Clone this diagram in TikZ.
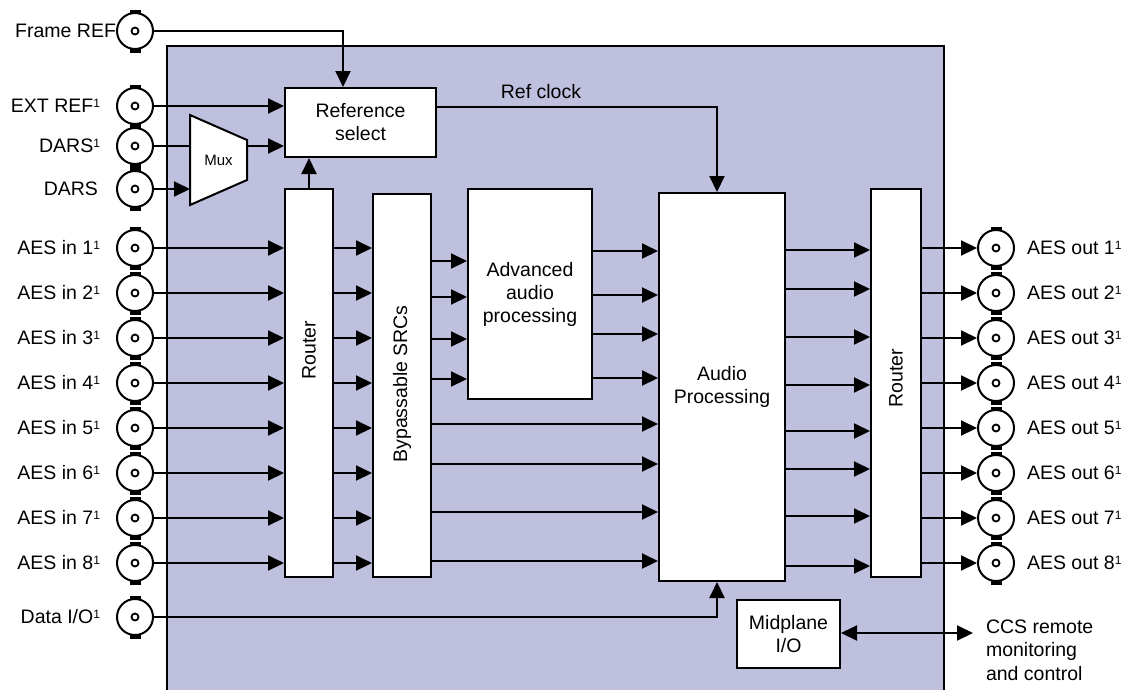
\documentclass[tikz,border=0pt]{standalone}
\usepackage{fontspec}
\setmainfont{Liberation Sans}
\usetikzlibrary{arrows.meta}
\definecolor{panel}{RGB}{191,191,222}
\newcommand\sone{\raisebox{5.5pt}{\fontsize{12}{12}\selectfont 1}}
\begin{document}
\begin{tikzpicture}[x=1pt,y=-1pt,line width=2pt,
  arr/.style={-{Triangle[length=16pt,width=15pt]}},
  darr/.style={{Triangle[length=16pt,width=15pt]}-{Triangle[length=16pt,width=15pt]}},
  blk/.style={draw,fill=white,inner sep=0pt,align=center,font=\fontsize{19.5}{23}\selectfont},
  bnc/.style={circle,draw,fill=white,minimum size=36pt,inner sep=0pt},
  lbl/.style={font=\fontsize{19.5}{23}\selectfont,inner sep=0pt},
  tab/.style={fill=black,line width=0pt},
]
\useasboundingbox (0,0) rectangle (1129,689);
% panel
\draw[fill=panel] (167,46) rectangle (944,700);

% blocks
\node[blk,minimum width=151pt,minimum height=69pt] (refsel) at (360.5,122.5) {Reference\\select};
\node[blk,minimum width=48pt,minimum height=388pt] (rtrL) at (309,383) {};
\node[lbl,rotate=90] at (309,350) {Router};
\node[blk,minimum width=58pt,minimum height=383pt] (src) at (402,385.5) {};
\node[lbl,rotate=90] at (402,384) {Bypassable SRCs};
\node[blk,minimum width=124pt,minimum height=210pt] (adv) at (530,294) {Advanced\\audio\\processing};
\node[blk,minimum width=126pt,minimum height=388pt] (ap) at (722,387) {Audio\\Processing};
\node[blk,minimum width=50pt,minimum height=388pt] (rtrR) at (896,383) {};
\node[lbl,rotate=90] at (896,378) {Router};
\node[blk,minimum width=103pt,minimum height=68pt] (mid) at (788.5,634) {Midplane\\I/O};

% mux
\draw[fill=white,line join=miter] (190,115) -- (247,140) -- (247,180) -- (190,205) -- cycle;
\node[inner sep=0pt,font=\fontsize{15}{15}\selectfont] (mux) at (218.5,160) {Mux};
\coordinate (muxin1) at (190,146);
\coordinate (muxin2) at (190,189);
\coordinate (muxout) at (247,146);

% reference connectors
\foreach \n/\y in {fref/31,ext/106,dars1/146,dars/189,data/617}{
  \fill[tab] (129.5,\y-21.5) rectangle (140.5,\y-17);
  \fill[tab] (129.5,\y+17) rectangle (140.5,\y+21.5);
  \node[bnc] (\n) at (135,\y) {};
  \draw[line width=1.8pt] (\n.center) circle (3.5pt);
}
\node[lbl,anchor=east] at (117,31) {Frame REF};
\node[lbl,anchor=east] at (101,106) {EXT REF\sone};
\node[lbl,anchor=east] at (101,146) {DARS\sone};
\node[lbl,anchor=east] at (99,189) {DARS};
\node[lbl,anchor=east] at (101,617) {Data I/O\sone};

\draw[arr] (fref.east) -| (refsel.north -| 343,0);
\draw[arr] (ext.east) -- (refsel.west |- ext.east);
\draw (dars1.east) -- (muxin1);
\draw[arr] (dars.east) -- (muxin2);
\draw[arr] (muxout) -- (refsel.west |- muxout);
\draw[arr] (rtrL.north) -- (refsel.south -| rtrL.north);
\draw[arr] (refsel.east |- 0,107) -| (ap.north -| 717,0);
\node[lbl] at (541,92) {Ref clock};
\draw[arr] (data.east) -| (ap.south -| 717,0);

% AES in / out
\foreach \i/\y in {1/248,2/293,3/338,4/383,5/428,6/473,7/518,8/563}{
  \fill[tab] (129.5,\y-21.5) rectangle (140.5,\y-17);
  \fill[tab] (129.5,\y+17) rectangle (140.5,\y+21.5);
  \node[bnc] (in\i) at (135,\y) {};
  \draw[line width=1.8pt] (in\i.center) circle (3.5pt);
  \node[lbl,anchor=east] at (101,\y) {AES in \i\sone};
  \draw[arr] (in\i.east) -- (rtrL.west |- in\i.east);
  \draw[arr] (rtrL.east |- in\i.east) -- (src.west |- in\i.east);
  \fill[tab] (990.5,\y-21.5) rectangle (1001.5,\y-17);
  \fill[tab] (990.5,\y+17) rectangle (1001.5,\y+21.5);
  \node[bnc] (out\i) at (996,\y) {};
  \draw[line width=1.8pt] (out\i.center) circle (3.5pt);
  \node[lbl,anchor=west] at (1026,\y) {AES out \i\sone};
  \draw[arr] (rtrR.east |- out\i.west) -- (out\i.west);
}

% SRC -> advanced, SRC -> audio processing
\foreach \y in {261,297,339,379}{
  \draw[arr] (src.east |- 0,\y) -- (adv.west |- 0,\y);
}
\foreach \y in {424,464,512,561}{
  \draw[arr] (src.east |- 0,\y) -- (ap.west |- 0,\y);
}
\foreach \y in {251,295,334,378}{
  \draw[arr] (adv.east |- 0,\y) -- (ap.west |- 0,\y);
}
\foreach \y in {250,289,337,385,431,469,516,566}{
  \draw[arr] (ap.east |- 0,\y) -- (rtrR.west |- 0,\y);
}

% midplane
\coordinate (ccs) at (973,633);
\draw[darr] (mid.east |- ccs) -- (ccs);
\node[lbl,anchor=north west,align=left,font=\fontsize{19.5}{23.5}\selectfont] at (985,618.5) {CCS remote\\monitoring\\and control};
\end{tikzpicture}
\end{document}
